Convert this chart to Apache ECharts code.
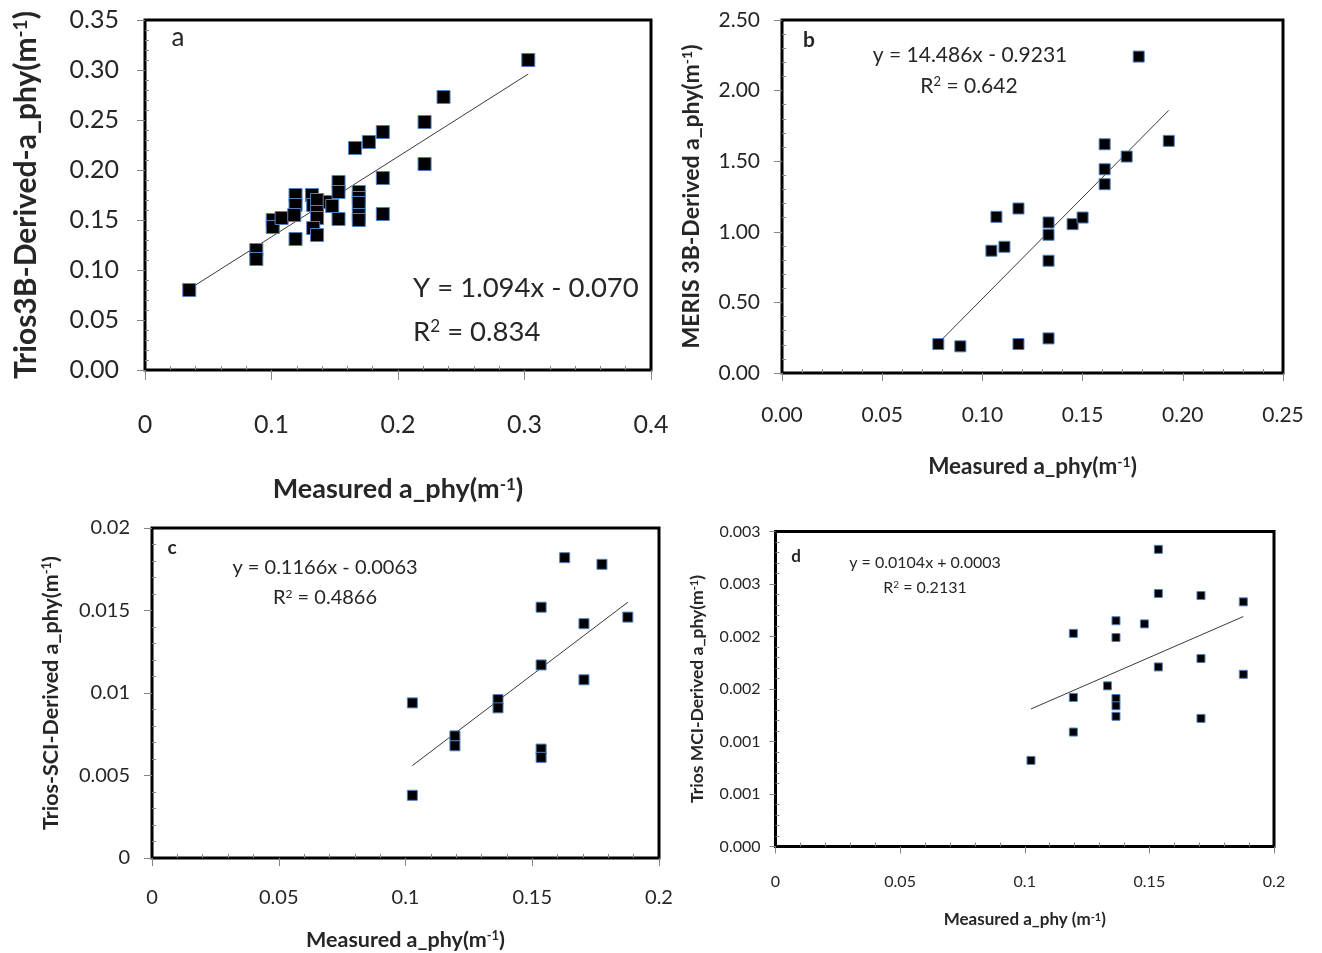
<!DOCTYPE html>
<html><head><meta charset="utf-8">
<script src="https://cdn.jsdelivr.net/npm/echarts@6/dist/echarts.min.js"></script>
<style>html,body{margin:0;padding:0;background:#fff}#c{width:1322px;height:953px}</style>
</head><body><div id="c"></div>
<script>
// ---------- Panel a: Trios 3B ----------
const aX = [0.035,0.088,0.088,0.101,0.101,0.108,0.119,0.119,0.118,0.119,0.132,0.133,0.136,0.136,0.136,0.133,0.136,0.146,0.148,0.153,0.153,0.153,0.166,0.177,0.169,0.169,0.169,0.169,0.169,0.188,0.188,0.188,0.221,0.221,0.236,0.303];
const aY = [0.080,0.120,0.111,0.150,0.143,0.152,0.175,0.165,0.155,0.131,0.175,0.165,0.170,0.158,0.152,0.142,0.135,0.168,0.164,0.188,0.178,0.151,0.222,0.228,0.178,0.172,0.167,0.155,0.150,0.238,0.192,0.156,0.248,0.206,0.273,0.310];
const aTrendX = [0.035, 0.303];
const aTrendY = [0.081, 0.296];
// ---------- Panel b: MERIS 3B ----------
const bX = [0.078,0.089,0.118,0.133,0.1045,0.111,0.107,0.118,0.133,0.133,0.133,0.145,0.150,0.161,0.161,0.161,0.172,0.178,0.193];
const bY = [0.205,0.189,0.205,0.245,0.866,0.894,1.106,1.165,1.066,0.979,0.795,1.054,1.101,1.620,1.443,1.337,1.533,2.241,1.644];
const bTrendX = [0.080, 0.193];
const bTrendY = [0.24, 1.86];
// ---------- Panel c: Trios SCI ----------
const cX = [0.1027,0.1027,0.1195,0.1195,0.1365,0.1365,0.1535,0.1535,0.1535,0.1535,0.1628,0.1704,0.1704,0.1775,0.1877];
const cY = [0.0094,0.0038,0.0074,0.0068,0.0096,0.0091,0.0152,0.0117,0.0066,0.0061,0.0182,0.0142,0.0108,0.0178,0.0146];
const cTrendX = [0.1027, 0.1877];
const cTrendY = [0.0056, 0.0155];
// ---------- Panel d: Trios MCI ----------
const dX = [0.1025,0.1195,0.1195,0.1195,0.1332,0.1366,0.1366,0.1366,0.1366,0.1366,0.148,0.1536,0.1536,0.1536,0.1707,0.1707,0.1707,0.1877,0.1877];
const dY = [0.00082,0.00203,0.00142,0.00109,0.00153,0.00215,0.00199,0.00141,0.00134,0.00124,0.00212,0.00283,0.00241,0.00171,0.00239,0.00179,0.00122,0.00233,0.00164];
const dTrendX = [0.1025, 0.1877];
const dTrendY = [0.00131, 0.00219];
const dYTickLabels = ['0.000','0.001','0.001','0.002','0.002','0.003','0.003'];

const FONT = 'Lato';
const TXT = '#262626';
const pairs = (xs, ys) => xs.map((x, i) => [x, ys[i]]);

function supRich(size, bold) {
  return { sup: { fontSize: Math.round(size * 0.62), fontFamily: FONT, fontWeight: bold ? 'bold' : 'normal', color: TXT, verticalAlign: 'top', lineHeight: size } };
}
function xAx(i, o) {
  return {
    gridIndex: i, type: 'value', min: o.min, max: o.max, interval: o.interval,
    axisLine: { show: true, onZero: false, lineStyle: { color: '#000', width: 1 } },
    axisTick: { show: true, length: o.tickLen, lineStyle: { color: '#868686' } },
    minorTick: { show: true, splitNumber: 5, length: -4, lineStyle: { color: '#868686' } },
    splitLine: { show: false },
    axisLabel: { fontFamily: FONT, fontSize: o.fs, color: TXT, margin: o.margin, formatter: o.fmt },
    name: o.name, nameLocation: 'middle', nameGap: o.nameGap,
    nameTextStyle: { fontFamily: FONT, fontWeight: 'bold', fontSize: o.nfs, color: TXT, rich: supRich(o.nfs, true) }
  };
}
function yAx(i, o) {
  return {
    gridIndex: i, type: 'value', min: o.min, max: o.max, interval: o.interval,
    axisLine: { show: true, onZero: false, lineStyle: { color: '#000', width: 1 } },
    axisTick: { show: true, length: o.tickLen, lineStyle: { color: '#868686' } },
    minorTick: { show: true, splitNumber: 5, length: -4, lineStyle: { color: '#868686' } },
    splitLine: { show: false },
    axisLabel: { fontFamily: FONT, fontSize: o.fs, color: TXT, margin: o.margin, formatter: o.fmt },
    name: o.name, nameLocation: 'middle', nameGap: o.nameGap, nameRotate: 90,
    nameTextStyle: { fontFamily: FONT, fontWeight: 'bold', fontSize: o.nfs, color: TXT, rich: supRich(o.nfs, true) }
  };
}
function scatter(i, data, size) {
  return { type: 'scatter', xAxisIndex: i, yAxisIndex: i, data, symbol: 'rect', symbolSize: size,
    itemStyle: { color: '#000', borderColor: '#4f81bd', borderWidth: 1, opacity: 1 }, z: 3 };
}
function trend(i, data) {
  return { type: 'line', xAxisIndex: i, yAxisIndex: i, data, symbol: 'none', silent: true,
    lineStyle: { color: '#3a3a3a', width: 1 }, z: 2 };
}
function label(x, y, text, size, bold, align) {
  return { type: 'text', x, y, z: 100, style: { text, fill: TXT,
    font: (bold ? 'bold ' : '') + size + 'px ' + FONT, align: align || 'center', verticalAlign: 'middle',
    rich: supRich(size, bold) } };
}

const gridStyle = { show: true, borderColor: '#000', borderWidth: 3, backgroundColor: 'transparent' };
const option = {
  backgroundColor: '#fff',
  animation: false,
  grid: [
    Object.assign({ left: 145, top: 20, width: 506, height: 350 }, gridStyle),
    Object.assign({ left: 782, top: 20, width: 501, height: 353 }, gridStyle),
    Object.assign({ left: 152, top: 528, width: 507, height: 330 }, gridStyle),
    Object.assign({ left: 775.5, top: 531.5, width: 498.5, height: 315 }, gridStyle)
  ],
  xAxis: [
    xAx(0, { min: 0, max: 0.4, interval: 0.1, tickLen: 10, fs: 25, margin: 42, nfs: 27, nameGap: 106, name: 'Measured a_phy(m{sup|-1})' }),
    xAx(1, { min: 0, max: 0.25, interval: 0.05, tickLen: 8, fs: 21, margin: 32, nfs: 22.5, nameGap: 82, name: 'Measured a_phy(m{sup|-1})', fmt: v => v.toFixed(2) }),
    xAx(2, { min: 0, max: 0.2, interval: 0.05, tickLen: 8, fs: 20, margin: 30, nfs: 21.5, nameGap: 71, name: 'Measured a_phy(m{sup|-1})' }),
    xAx(3, { min: 0, max: 0.2, interval: 0.05, tickLen: 7, fs: 16, margin: 27, nfs: 17, nameGap: 65, name: 'Measured a_phy (m{sup|-1})' })
  ],
  yAxis: [
    yAx(0, { min: 0, max: 0.35, interval: 0.05, tickLen: 8, fs: 25, margin: 26, nfs: 30, nameGap: 104, name: 'Trios3B-Derived-a_phy(m{sup|-1})', fmt: v => v.toFixed(2) }),
    yAx(1, { min: 0, max: 2.5, interval: 0.5, tickLen: 8, fs: 21, margin: 22, nfs: 23, nameGap: 79, name: 'MERIS 3B-Derived a_phy(m{sup|-1})', fmt: v => v.toFixed(2) }),
    yAx(2, { min: 0, max: 0.02, interval: 0.005, tickLen: 8, fs: 20, margin: 22, nfs: 21.5, nameGap: 90, name: 'Trios-SCI-Derived a_phy(m{sup|-1})' }),
    yAx(3, { min: 0, max: 0.003, interval: 0.0005, tickLen: 6, fs: 16, margin: 15, nfs: 17.5, nameGap: 69, name: 'Trios MCI-Derived a_phy(m{sup|-1})', fmt: v => dYTickLabels[Math.round(v / 0.0005)] })
  ],
  series: [
    trend(0, pairs(aTrendX, aTrendY)), scatter(0, pairs(aX, aY), 13),
    trend(1, pairs(bTrendX, bTrendY)), scatter(1, pairs(bX, bY), 11),
    trend(2, pairs(cTrendX, cTrendY)), scatter(2, pairs(cX, cY), 10),
    trend(3, pairs(dTrendX, dTrendY)), scatter(3, pairs(dX, dY), 8)
  ],
  graphic: [
    label(178, 38, 'a', 26, false),
    label(413, 288, 'Y = 1.094x - 0.070', 27.5, false, 'left'),
    label(413, 332, 'R{sup|2} = 0.834', 27.5, false, 'left'),
    label(809, 40, 'b', 21, true),
    label(970, 55, 'y = 14.486x - 0.9231', 21, false),
    label(969, 86, 'R{sup|2} = 0.642', 21, false),
    label(172, 548, 'c', 19, true),
    label(325, 568, 'y = 0.1166x - 0.0063', 20, false),
    label(325, 598, 'R{sup|2} = 0.4866', 20, false),
    label(796, 557, 'd', 17, true),
    label(925, 563, 'y = 0.0104x + 0.0003', 16, false),
    label(925, 588, 'R{sup|2} = 0.2131', 16, false)
  ]
};
const chart = echarts.init(document.getElementById('c'), null, { renderer: 'canvas' });
chart.setOption(option);
</script>
</body></html>
